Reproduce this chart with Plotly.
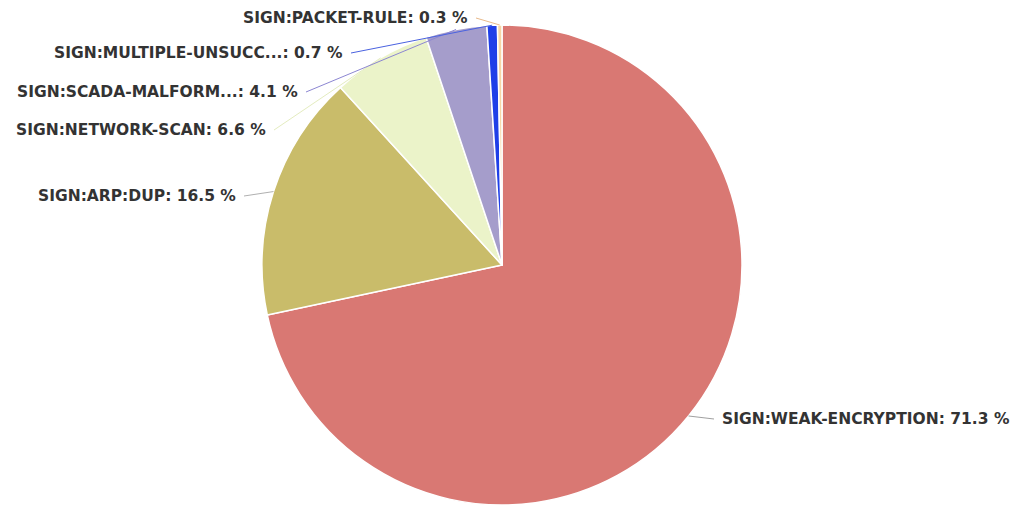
import math
import plotly.graph_objects as go

labels = ["SIGN:WEAK-ENCRYPTION", "SIGN:ARP:DUP", "SIGN:NETWORK-SCAN",
          "SIGN:SCADA-MALFORM...", "SIGN:MULTIPLE-UNSUCC...", "SIGN:PACKET-RULE"]
values = [71.3, 16.5, 6.6, 4.1, 0.7, 0.3]
colors = ["#D97873", "#C9BC6A", "#EBF3C9", "#A59DCB", "#1F3FE8", "#F5D6A6"]
line_colors = ["#a0a0a0", "#b0b0b0", "#e4ecbf", "#8c86d2", "#4a62e0", "#e8b98a"]

# label placement in screenshot pixels: anchor x, y, side
label_pos = [(720, 419, "left"), (238, 196, "right"), (268, 130, "right"),
             (300, 92, "right"), (345, 53, "right"), (470, 18, "right")]

OFF = 8  # page body margin
W, H = 1008, 505
R = 240
cx_s, cy_s = 502, 265  # pie centre in screenshot pixels
cx_f, cy_f = cx_s - OFF, cy_s - OFF
mt = cy_f - R
mb = H - mt - 2 * R
plot_h = H - mt - mb
dom_c = cx_f / W

fig = go.Figure(go.Pie(
    labels=labels,
    values=values,
    sort=False,
    direction="clockwise",
    rotation=0,
    marker=dict(colors=colors, line=dict(color="white", width=1.5)),
    textinfo="none",
    hoverinfo="label+value",
    automargin=False,
    domain=dict(x=[0, 2 * dom_c], y=[0, 1]),
    showlegend=False,
))

def to_paper(px, py):
    fx, fy = px - OFF, py - OFF
    return fx / W, 1 - (fy - mt) / plot_h

total = sum(values)
cum = 0.0
for lab, v, lc, (lx, ly, side) in zip(labels, values, line_colors, label_pos):
    mid = (cum + v / 2.0) / total * 2 * math.pi
    cum += v
    tx = cx_s + R * math.sin(mid)
    ty = cy_s - R * math.cos(mid)
    sx = lx + 6 if side == "right" else lx - 6
    x0, y0 = to_paper(sx, ly)
    x1, y1 = to_paper(tx, ty)
    fig.add_shape(type="line", xref="paper", yref="paper",
                  x0=x0, y0=y0, x1=x1, y1=y1,
                  line=dict(color=lc, width=1))
    ax, ay = to_paper(lx, ly)
    fig.add_annotation(xref="paper", yref="paper", x=ax, y=ay,
                       text=f"<b>{lab}: {v} %</b>", showarrow=False,
                       xanchor=side, yanchor="middle",
                       font=dict(family="DejaVu Sans", size=15.5, color="#333333"))

fig.update_layout(
    width=W, height=H,
    margin=dict(l=0, r=0, t=mt, b=mb),
    paper_bgcolor="white",
)
fig.write_html("out.html")
